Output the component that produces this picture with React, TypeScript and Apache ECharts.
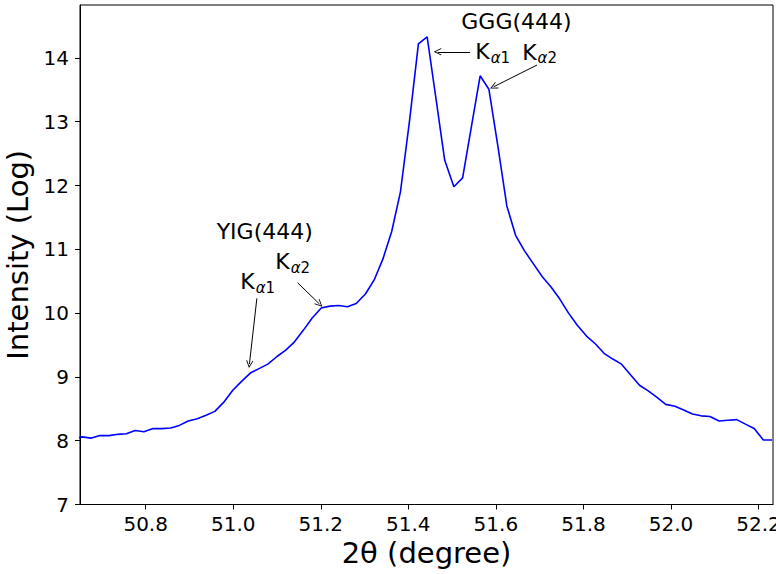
import React, { useEffect, useRef } from "react";
import * as echarts from "echarts";

// 2θ positions (degree) of the scan points
const twoTheta: number[] = [
  50.635, 50.655, 50.675, 50.695, 50.716, 50.736, 50.756, 50.776, 50.796, 50.817,
  50.837, 50.857, 50.877, 50.897, 50.918, 50.938, 50.958, 50.978, 50.999, 51.019,
  51.039, 51.059, 51.079, 51.100, 51.120, 51.140, 51.160, 51.180, 51.201, 51.221,
  51.241, 51.261, 51.281, 51.302, 51.322, 51.342, 51.362, 51.382, 51.403, 51.423,
  51.443, 51.463, 51.483, 51.504, 51.524, 51.544, 51.564, 51.584, 51.605, 51.625,
  51.645, 51.665, 51.685, 51.706, 51.726, 51.746, 51.766, 51.786, 51.807, 51.827,
  51.847, 51.867, 51.887, 51.908, 51.928, 51.948, 51.968, 51.988, 52.009, 52.029,
  52.049, 52.069, 52.089, 52.110, 52.130, 52.150, 52.170, 52.190, 52.211, 52.231,
];

// Log intensity at each point
const intensity: number[] = [
  8.03, 8.06, 8.04, 8.08, 8.08, 8.10, 8.11, 8.16, 8.14, 8.19,
  8.19, 8.20, 8.24, 8.31, 8.345, 8.40, 8.46, 8.60, 8.79, 8.93,
  9.06, 9.13, 9.20, 9.32, 9.42, 9.55, 9.73, 9.92, 10.08, 10.11,
  10.12, 10.10, 10.15, 10.30, 10.52, 10.85, 11.28, 11.90, 13.03, 14.22,
  14.33, 13.37, 12.40, 11.98, 12.12, 12.92, 13.72, 13.51, 12.60, 11.68,
  11.22, 10.98, 10.78, 10.57, 10.41, 10.22, 10.00, 9.81, 9.64, 9.52,
  9.37, 9.28, 9.20, 9.03, 8.87, 8.78, 8.68, 8.57, 8.54, 8.48,
  8.42, 8.39, 8.38, 8.31, 8.32, 8.33, 8.26, 8.19, 8.01, 8.01,
];

const xTicks: number[] = [50.8, 51.0, 51.2, 51.4, 51.6, 51.8, 52.0, 52.2];
const yTicks: number[] = [7, 8, 9, 10, 11, 12, 13, 14];

// Annotation arrows: [tailX, tailY, headX, headY] in data units
const arrows: number[][] = [
  [51.541, 14.097, 51.467, 14.097],
  [51.694, 13.889, 51.595, 13.549],
  [51.054, 10.232, 51.037, 9.202],
  [51.147, 10.477, 51.197, 10.143],
];

// Annotation texts: [x, y, text, anchor]
const notes: [number, number, string, string][] = [
  [51.647, 14.567, "GGG(444)", "center"],
  [51.553, 14.097, "{k|K}{s|α}{d|1}", "left"],
  [51.660, 14.092, "{k|K}{s|α}{d|2}", "left"],
  [51.072, 11.276, "YIG(444)", "center"],
  [51.096, 10.806, "{k|K}{s|α}{d|2}", "left"],
  [51.016, 10.492, "{k|K}{s|α}{d|1}", "left"],
];

const FONT = "DejaVu Sans";
const OPEN_ARROW = "path://M5,0 L10,9 L9.2,10 L5,2.4 L0.8,10 L0,9 Z";

export default function App() {
  const ref = useRef<HTMLDivElement>(null);
  useEffect(() => {
    if (!ref.current) return;
    const chart = echarts.init(ref.current, undefined, { renderer: "svg" });
    const rich = {
      k: { fontSize: 22, fontFamily: FONT, color: "#000" },
      s: { fontSize: 15, fontFamily: FONT, fontStyle: "italic", color: "#000", padding: [12, 0, 0, 1] },
      d: { fontSize: 15, fontFamily: FONT, color: "#000", padding: [12, 0, 0, 0] },
    };
    chart.setOption({
      animation: false,
      backgroundColor: "#fff",
      grid: {
        left: 80,
        right: 3,
        top: 5,
        bottom: 69.5,
        show: true,
        borderColor: "#000",
        borderWidth: 1,
        backgroundColor: "transparent",
        outerBoundsMode: "none",
        containLabel: false,
      },
      xAxis: {
        type: "value",
        min: 50.65,
        max: 52.233,
        name: "2θ (degree)",
        nameLocation: "middle",
        nameGap: 31,
        nameTextStyle: { fontSize: 29, fontFamily: FONT, color: "#000" },
        axisLine: { show: true, onZero: false, lineStyle: { color: "#000", width: 1 } },
        axisTick: { show: true, inside: false, length: 5, customValues: xTicks, lineStyle: { color: "#000" } },
        axisLabel: {
          customValues: xTicks,
          margin: 9,
          fontSize: 20,
          fontFamily: FONT,
          color: "#000",
          formatter: (v: number) => v.toFixed(1),
        },
        splitLine: { show: false },
      },
      yAxis: {
        type: "value",
        min: 7,
        max: 14.83,
        name: "Intensity (Log)",
        nameLocation: "middle",
        nameRotate: 90,
        nameGap: 43,
        nameTextStyle: { fontSize: 29, fontFamily: FONT, color: "#000" },
        axisLine: { show: true, onZero: false, lineStyle: { color: "#000", width: 1 } },
        axisTick: { show: true, inside: false, length: 5, customValues: yTicks, lineStyle: { color: "#000" } },
        axisLabel: {
          customValues: yTicks,
          margin: 11,
          fontSize: 20,
          fontFamily: FONT,
          color: "#000",
          formatter: (v: number) => String(Math.round(v)),
        },
        splitLine: { show: false },
      },
      series: [
        {
          type: "line",
          data: twoTheta.map((x, i) => [x, intensity[i]]),
          showSymbol: false,
          symbol: "none",
          clip: true,
          lineStyle: { color: "#0000ff", width: 1.6 },
          itemStyle: { color: "#0000ff" },
          markLine: {
            silent: true,
            symbol: ["none", OPEN_ARROW],
            symbolSize: [7, 8],
            precision: 4,
            label: { show: false },
            lineStyle: { color: "#000", width: 1, type: "solid" },
            itemStyle: { color: "#000" },
            data: arrows.map((a) => [
              { coord: [a[0], a[1]], symbol: "none" },
              { coord: [a[2], a[3]], symbol: OPEN_ARROW, symbolSize: [7, 8] },
            ]),
          },
          markPoint: {
            silent: true,
            symbol: "circle",
            symbolSize: 0,
            data: notes.map((n) => ({
              coord: [n[0], n[1]],
              label: {
                show: true,
                position: n[3] === "center" ? "inside" : "right",
                distance: 0,
                formatter: n[2],
                fontSize: 22,
                fontFamily: FONT,
                color: "#000",
                rich,
              },
            })),
          },
        },
      ],
    });
    return () => chart.dispose();
  }, []);
  return (
    <div
      ref={ref}
      style={{ position: "fixed", left: 0, top: 0, width: 776, height: 574 }}
    />
  );
}
